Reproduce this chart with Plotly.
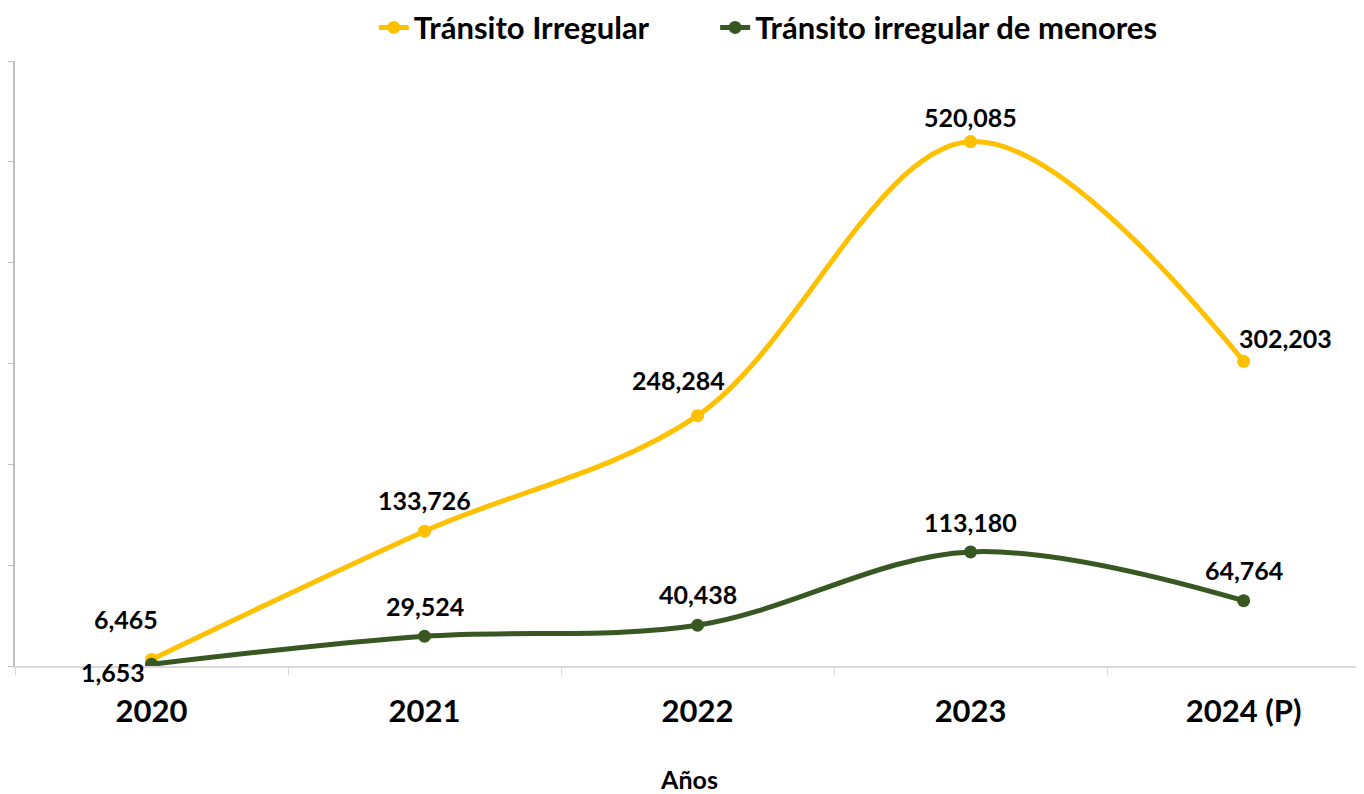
import plotly.graph_objects as go

# datos
years = ["2020", "2021", "2022", "2023", "2024 (P)"]
transito_irregular = [6465, 133726, 248284, 520085, 302203]
transito_menores = [1653, 29524, 40438, 113180, 64764]

YELLOW = "#FFC000"
GREEN = "#385723"
FONT = "Lato"

# desplazamiento de las etiquetas (px) respecto al punto
shift_irregular = [(-26, 40), (0, 31), (-19, 36), (0, 25), (42, 23)]
shift_menores = [(-39, -8), (0, 30), (0, 31), (0, 30), (0, 31)]

fig = go.Figure()

fig.add_trace(go.Scatter(
    x=years, y=transito_irregular, name="Tránsito Irregular",
    mode="lines+markers", legend="legend",
    line=dict(color=YELLOW, width=5, shape="spline", smoothing=1.0),
    marker=dict(color=YELLOW, size=13),
))
fig.add_trace(go.Scatter(
    x=years, y=transito_menores, name="Tránsito irregular de menores",
    mode="lines+markers", legend="legend2",
    line=dict(color=GREEN, width=5, shape="spline", smoothing=1.0),
    marker=dict(color=GREEN, size=13),
))

annotations = []
for vals, shifts in [(transito_irregular, shift_irregular), (transito_menores, shift_menores)]:
    for i, (v, (dx, dy)) in enumerate(zip(vals, shifts)):
        # indice de categoria (los nombres numericos se leerian como numeros)
        annotations.append(dict(
            x=i, y=v, text=f"{v:,}", showarrow=False,
            xshift=dx, yshift=dy,
            font=dict(family=FONT, size=25, color="black", weight="bold"),
        ))

legend_font = dict(family=FONT, size=31, color="black", weight="bold")

# la pagina deja 8px de margen en el body
fig.update_layout(
    width=1356, height=786,
    margin=dict(l=7, r=0, t=53, b=128, autoexpand=False),
    paper_bgcolor="white", plot_bgcolor="white",
    font=dict(family=FONT, color="black"),
    showlegend=True,
    legend=dict(orientation="h", x=0.266, xanchor="left", y=1.055, yanchor="middle",
                font=legend_font, bgcolor="rgba(0,0,0,0)"),
    legend2=dict(orientation="h", x=0.519, xanchor="left", y=1.055, yanchor="middle",
                 font=legend_font, bgcolor="rgba(0,0,0,0)"),
    annotations=annotations,
)

fig.update_xaxes(
    type="category", range=[-0.5, 4.441], automargin=False,
    showline=True, linecolor="#d9d9d9", linewidth=2,
    ticks="outside", ticklen=7, tickcolor="#d9d9d9", tickwidth=1,
    tickson="boundaries", showgrid=False, zeroline=False,
    ticklabelstandoff=17,
    tickfont=dict(family=FONT, size=31, color="black", weight="bold"),
    title=dict(text="Años", font=dict(family=FONT, size=25, color="black", weight="bold"),
               standoff=45),
)
fig.update_yaxes(
    range=[0, 600000], dtick=100000, automargin=False,
    showline=True, linecolor="#bfbfbf", linewidth=2,
    ticks="outside", ticklen=7, tickcolor="#bfbfbf", tickwidth=1,
    showticklabels=False, showgrid=False, zeroline=False,
)

fig.write_html("out.html")
